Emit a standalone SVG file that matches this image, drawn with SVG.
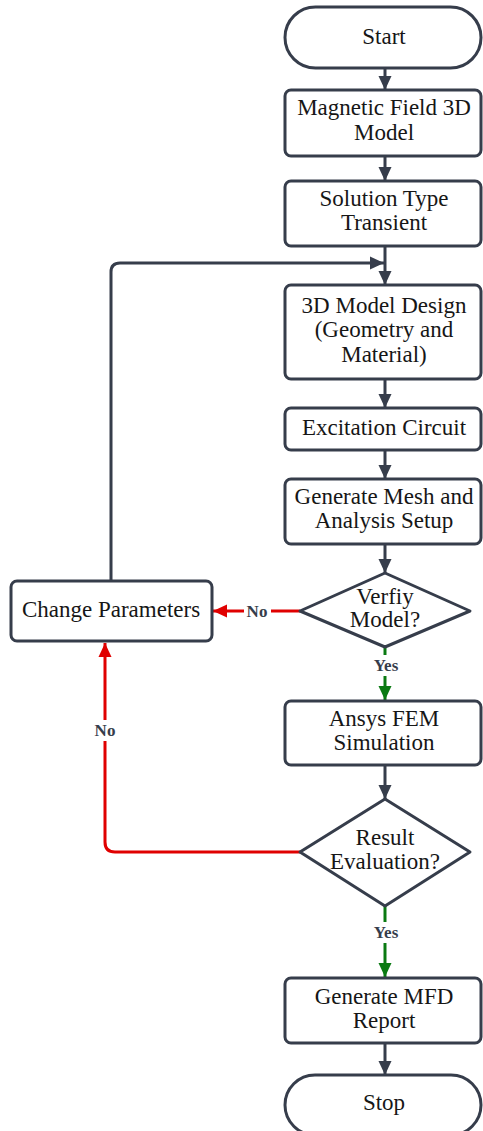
<svg xmlns="http://www.w3.org/2000/svg" width="483" height="1131" viewBox="0 0 483 1131">
  <style>
    .shape { fill: #ffffff; stroke: #363d4b; stroke-width: 3; }
    .label { font-family: "Liberation Serif", "Times New Roman", serif; font-size: 23px; fill: #161616; text-anchor: middle; }
    .tag { font-family: "Liberation Serif", "Times New Roman", serif; font-size: 17px; font-weight: bold; fill: #363d4b; text-anchor: middle; }
    .flow { fill: none; stroke: #363d4b; stroke-width: 3; }
    .no { fill: none; stroke: #e00000; stroke-width: 3; }
    .yes { fill: none; stroke: #0a7a12; stroke-width: 3; }
  </style>
  <defs>
    <marker id="arrowDark" markerUnits="userSpaceOnUse" markerWidth="15" markerHeight="15" viewBox="0 0 15 15" refX="14" refY="7.5" orient="auto">
      <path d="M0,1 L14,7.5 L0,14 Z" fill="#363d4b"/>
    </marker>
    <marker id="arrowRed" markerUnits="userSpaceOnUse" markerWidth="15" markerHeight="15" viewBox="0 0 15 15" refX="14" refY="7.5" orient="auto">
      <path d="M0,1 L14,7.5 L0,14 Z" fill="#e00000"/>
    </marker>
    <marker id="arrowGreen" markerUnits="userSpaceOnUse" markerWidth="15" markerHeight="15" viewBox="0 0 15 15" refX="14" refY="7.5" orient="auto">
      <path d="M0,1 L14,7.5 L0,14 Z" fill="#0a7a12"/>
    </marker>
  </defs>

  <rect width="483" height="1131" fill="#ffffff"/>

  <!-- connectors -->
  <g id="connectors">
    <path class="flow" d="M385,68 V90" marker-end="url(#arrowDark)"/>
    <path class="flow" d="M385,156 V181" marker-end="url(#arrowDark)"/>
    <path class="flow" d="M385,246 V285" marker-end="url(#arrowDark)"/>
    <path class="flow" d="M111,581 V272 Q111,263 120,263 H384" marker-end="url(#arrowDark)"/>
    <path class="flow" d="M385,379 V408" marker-end="url(#arrowDark)"/>
    <path class="flow" d="M385,450 V479" marker-end="url(#arrowDark)"/>
    <path class="flow" d="M385,544 V573" marker-end="url(#arrowDark)"/>
    <path class="no" d="M300,611 H213" marker-end="url(#arrowRed)"/>
    <path class="yes" d="M385,647 V700" marker-end="url(#arrowGreen)"/>
    <path class="flow" d="M385,765 V799" marker-end="url(#arrowDark)"/>
    <path class="no" d="M300,852 H115 Q105,852 105,842 V643" marker-end="url(#arrowRed)"/>
    <path class="yes" d="M385,906 V977" marker-end="url(#arrowGreen)"/>
    <path class="flow" d="M385,1043 V1075" marker-end="url(#arrowDark)"/>

    <!-- branch labels -->
    <rect x="244" y="600" width="27" height="21" fill="#ffffff"/>
    <text class="tag" x="257" y="617">No</text>
    <rect x="370" y="655" width="32" height="21" fill="#ffffff"/>
    <text class="tag" x="386" y="671">Yes</text>
    <rect x="91" y="720" width="28" height="21" fill="#ffffff"/>
    <text class="tag" x="105" y="736">No</text>
    <rect x="370" y="922" width="32" height="21" fill="#ffffff"/>
    <text class="tag" x="386" y="938">Yes</text>
  </g>

  <g id="start">
    <rect class="shape" x="285" y="7" width="196" height="61" rx="30.5"/>
    <text class="label" x="384" y="44">Start</text>
  </g>

  <g id="magnetic-field-model">
    <rect class="shape" x="285" y="90" width="196" height="66" rx="6"/>
    <text class="label" x="384" y="115">Magnetic Field 3D</text>
    <text class="label" x="384" y="140">Model</text>
  </g>

  <g id="solution-type">
    <rect class="shape" x="285" y="181" width="196" height="65" rx="6"/>
    <text class="label" x="384" y="206">Solution Type</text>
    <text class="label" x="384" y="230">Transient</text>
  </g>

  <g id="model-design">
    <rect class="shape" x="285" y="285" width="196" height="94" rx="6"/>
    <text class="label" x="384" y="313">3D Model Design</text>
    <text class="label" x="384" y="337">(Geometry and</text>
    <text class="label" x="384" y="362">Material)</text>
  </g>

  <g id="excitation-circuit">
    <rect class="shape" x="285" y="408" width="196" height="42" rx="6"/>
    <text class="label" x="384" y="435">Excitation Circuit</text>
  </g>

  <g id="mesh-setup">
    <rect class="shape" x="285" y="479" width="196" height="65" rx="6"/>
    <text class="label" x="384" y="504">Generate Mesh and</text>
    <text class="label" x="384" y="528">Analysis Setup</text>
  </g>

  <g id="verify-model">
    <polygon class="shape" points="385,573 470,611 385,647 300,611" stroke-linejoin="round"/>
    <text class="label" x="385" y="604">Verfiy</text>
    <text class="label" x="385" y="627">Model?</text>
  </g>

  <g id="change-parameters">
    <rect class="shape" x="11" y="581" width="201" height="60" rx="6"/>
    <text class="label" x="111" y="617">Change Parameters</text>
  </g>

  <g id="fem-simulation">
    <rect class="shape" x="285" y="701" width="196" height="64" rx="6"/>
    <text class="label" x="384" y="726">Ansys FEM</text>
    <text class="label" x="384" y="750">Simulation</text>
  </g>

  <g id="result-evaluation">
    <polygon class="shape" points="385,799 470,852 385,906 300,852" stroke-linejoin="round"/>
    <text class="label" x="385" y="845">Result</text>
    <text class="label" x="385" y="869">Evaluation?</text>
  </g>

  <g id="mfd-report">
    <rect class="shape" x="285" y="978" width="196" height="65" rx="6"/>
    <text class="label" x="384" y="1004">Generate MFD</text>
    <text class="label" x="384" y="1028">Report</text>
  </g>

  <g id="stop">
    <rect class="shape" x="285" y="1075" width="196" height="60" rx="30"/>
    <text class="label" x="384" y="1110">Stop</text>
  </g>
</svg>
